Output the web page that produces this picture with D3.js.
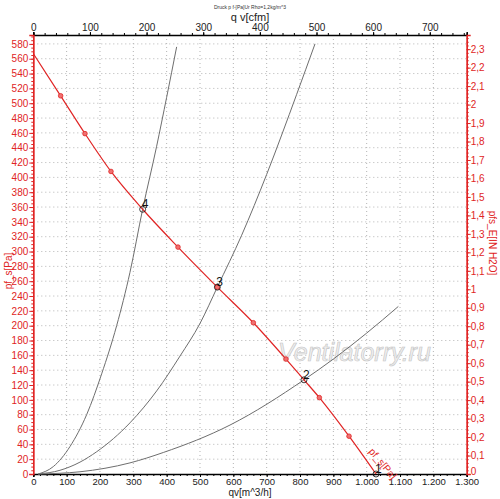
<!DOCTYPE html>
<html>
<head>
<meta charset="utf-8">
<script src="https://cdn.jsdelivr.net/npm/d3@7"></script>
<style>
  body { margin: 0; background: #fff; }
  svg { font-family: "Liberation Sans", Arial, sans-serif; }
</style>
</head>
<body>
<div id="chart"></div>
<script>
// fan curve pf_s [m^3/h, Pa]
const fanCurve = [
  [0, 567], [82, 510], [155, 459], [233, 408], [328, 357], [434, 306],
  [552, 252], [660, 204], [758, 155], [812, 127], [858, 103], [947, 51], [1028, 0]
];
const fanMarkers = [1, 2, 3, 5, 6, 7, 8, 10, 11];

// system curves
const system4 = [[15, 0], [60, 10], [110, 37], [160, 80], [205, 135], [250, 200], [290, 272], [328, 357], [370, 442], [400, 508], [430, 576]];
const system3 = [[15, 0], [80, 5], [140, 16], [190, 30], [290, 69], [370, 112], [440, 159], [500, 203], [552, 252], [625, 322], [700, 404], [790, 512], [845, 580]];
const system2 = [[15, 0], [140, 3], [290, 15], [390, 29], [590, 66], [812, 127], [900, 155], [1000, 190], [1095, 226]];

// operating points
const opPoints = [
  { label: "4", q: 328, p: 357 },
  { label: "3", q: 552, p: 252 },
  { label: "2", q: 812, p: 127 },
  { label: "1", q: 1028, p: 0 }
];

const width = 500, height = 499;
const mLeft = 33.3, mRight = 466.7, mTop = 35, mBottom = 474;
const red = "#e02424";
const paToInH2O = 1 / 249.089;
const m3hToCfm = 1 / 1.699;

const svg = d3.select("#chart").append("svg")
  .attr("width", width).attr("height", height);

let x = d3.scaleLinear().domain([0, 1300]).range([mLeft, mRight]);
let y = d3.scaleLinear().domain([0, 592]).range([mBottom, mTop]);
let xTop = d3.scaleLinear().domain([0, 1300 * m3hToCfm]).range([mLeft, mRight]);
let yRight = d3.scaleLinear().domain([0, 592 * paToInH2O]).range([mBottom, mTop]);

// grid
let grid = svg.append("g").attr("stroke", "#b4b4b4").attr("stroke-dasharray", "1,3");
grid.selectAll("line.v").data(d3.range(100, 1300, 100)).enter().append("line")
  .attr("x1", d => x(d)).attr("x2", d => x(d)).attr("y1", mTop).attr("y2", mBottom);
grid.selectAll("line.h").data(d3.range(20, 592, 20)).enter().append("line")
  .attr("y1", d => y(d)).attr("y2", d => y(d)).attr("x1", mLeft).attr("x2", mRight);

let thousands = d3.formatLocale({ decimal: ",", thousands: ".", grouping: [3], currency: ["", ""] });

// bottom axis
let bAxis = svg.append("g").attr("transform", `translate(0,${mBottom})`)
  .call(d3.axisBottom(x).tickValues(d3.range(0, 1301, 100)).tickSize(3).tickPadding(1.5).tickFormat(thousands.format(",")));
svg.append("g").attr("transform", `translate(0,${mBottom})`)
  .call(d3.axisBottom(x).tickValues(d3.range(0, 1301, 20)).tickSize(2).tickFormat(""));

// top axis
let tAxis = svg.append("g").attr("transform", `translate(0,${mTop})`)
  .call(d3.axisTop(xTop).tickValues(d3.range(0, 701, 100)).tickSize(3).tickPadding(1));
svg.append("g").attr("transform", `translate(0,${mTop})`)
  .call(d3.axisTop(xTop).tickValues(d3.range(0, 765, 20)).tickSize(2).tickFormat(""));

// left axis
let lAxis = svg.append("g").attr("transform", `translate(${mLeft},0)`)
  .call(d3.axisLeft(y).tickValues(d3.range(0, 581, 20)).tickSize(4));
svg.append("g").attr("class", "red-minor").attr("transform", `translate(${mLeft},0)`)
  .call(d3.axisLeft(y).tickValues(d3.range(0, 592, 5)).tickSize(2).tickFormat(""));

// right axis
let fmtIn = d => String(Math.round(d * 10) / 10).replace(".", ",");
let rAxis = svg.append("g").attr("transform", `translate(${mRight},0)`)
  .call(d3.axisRight(yRight).tickValues(d3.range(0, 24).map(i => i / 10)).tickSize(4).tickFormat(fmtIn));
svg.append("g").attr("class", "red-minor").attr("transform", `translate(${mRight},0)`)
  .call(d3.axisRight(yRight).tickValues(d3.range(0, 119).map(i => i / 50)).tickSize(2).tickFormat(""));

svg.selectAll("g.tick text").attr("font-size", 10).attr("font-family", "Liberation Sans, Arial, sans-serif");
bAxis.selectAll("text").attr("font-size", 9.5);
[bAxis, tAxis].forEach(a => {
  a.selectAll("text").attr("fill", "#222");
});
[lAxis, rAxis].forEach(a => {
  a.selectAll("text").attr("fill", red);
  a.selectAll("line").attr("stroke", red);
  a.select(".domain").attr("stroke", red).attr("stroke-width", 1.5);
});
svg.selectAll("g.red-minor line").attr("stroke", red);
svg.selectAll("g.red-minor .domain").attr("stroke", red);
bAxis.select(".domain").attr("stroke-width", 1.5);
tAxis.select(".domain").attr("stroke-width", 1.5);
rAxis.selectAll("text").attr("dx", -3);
rAxis.selectAll("text").filter(d => d === 0).attr("dy", "0.05em");
lAxis.selectAll("text").attr("dx", 2);

// watermark
svg.append("text")
  .attr("x", 278).attr("y", 361)
  .attr("font-size", 25).attr("font-style", "italic")
  .attr("fill", "#efefef").attr("stroke", "#c4c4c4").attr("stroke-width", 0.6)
  .text("Ventilatorry.ru");

// system curves
let line = d3.line().x(d => x(d[0])).y(d => y(d[1])).curve(d3.curveMonotoneX);
[system2, system3, system4].forEach(s => {
  svg.append("path").datum(s).attr("d", line)
    .attr("fill", "none").attr("stroke", "#6e6e6e").attr("stroke-width", 1);
});

// fan curve
svg.append("path").datum(fanCurve).attr("d", line)
  .attr("fill", "none").attr("stroke", red).attr("stroke-width", 1.2);
svg.selectAll("circle.fan").data(fanMarkers.map(i => fanCurve[i])).enter().append("circle")
  .attr("cx", d => x(d[0])).attr("cy", d => y(d[1])).attr("r", 2.3)
  .attr("fill", "#f07070").attr("stroke", red).attr("stroke-width", 0.8);

// operating points
svg.selectAll("circle.op").data(opPoints).enter().append("circle")
  .attr("cx", d => x(d.q)).attr("cy", d => y(d.p)).attr("r", 3)
  .attr("fill", "none").attr("stroke", "#111").attr("stroke-width", 0.8);
svg.selectAll("text.op").data(opPoints).enter().append("text")
  .attr("x", d => x(d.q) - 1).attr("y", d => y(d.p) - 1)
  .attr("font-size", 12).attr("fill", "#111")
  .text(d => d.label);

// curve label
svg.append("text")
  .attr("transform", `translate(${x(1005)},${y(30)}) rotate(50)`)
  .attr("font-size", 10).attr("fill", red)
  .text("pf_s[Pa]");

// titles
svg.append("text").attr("x", 250).attr("y", 9).attr("text-anchor", "middle")
  .attr("font-size", 5).attr("fill", "#333").text("Druck p f-[Pa]Ur Rho=1,2kg/m^3");
svg.append("text").attr("x", 250).attr("y", 21).attr("text-anchor", "middle")
  .attr("font-size", 11).attr("fill", "#222").text("q v[cfm]");
svg.append("text").attr("x", 250).attr("y", 496).attr("text-anchor", "middle")
  .attr("font-size", 10).attr("fill", "#222").text("qv[m^3/h]");
svg.append("text").attr("transform", "translate(12,271) rotate(-90)").attr("text-anchor", "middle")
  .attr("font-size", 10).attr("fill", red).text("pf_s[Pa]");
svg.append("text").attr("transform", "translate(489,243) rotate(90)").attr("text-anchor", "middle")
  .attr("font-size", 10).attr("fill", red).text("pfs_E[IN H2O]");
</script>
</body>
</html>
